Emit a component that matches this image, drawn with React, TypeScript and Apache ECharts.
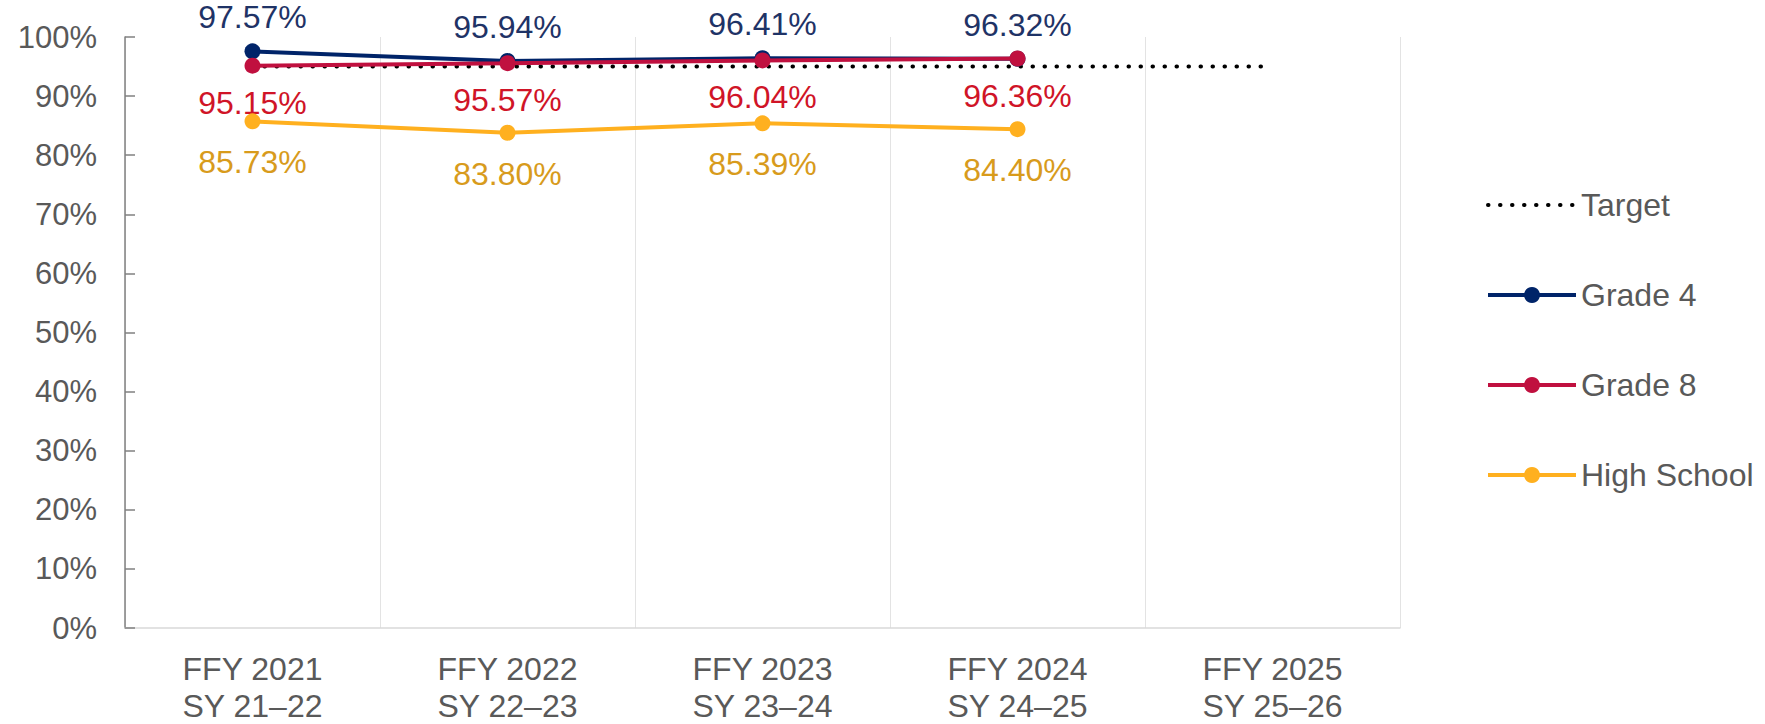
import React, { useEffect, useRef } from "react";
import * as echarts from "echarts";

const categories = [
  "FFY 2021\nSY 21–22",
  "FFY 2022\nSY 22–23",
  "FFY 2023\nSY 23–24",
  "FFY 2024\nSY 24–25",
  "FFY 2025\nSY 25–26",
];
const target = [95, 95, 95, 95, 95];
const grade4 = [97.57, 95.94, 96.41, 96.32, null];
const grade8 = [95.15, 95.57, 96.04, 96.36, null];
const highSchool = [85.73, 83.8, 85.39, 84.4, null];

const FONT = "'Liberation Sans', Arial, sans-serif";
const GRAY = "#595959";

export default function App() {
  const ref = useRef<HTMLDivElement>(null);
  useEffect(() => {
    document.body.style.margin = "0";
    if (!ref.current) return;
    const chart = echarts.init(ref.current, undefined, { renderer: "svg" });
    const lbl = (color: string, position: string, distance: number) => ({
      show: true,
      position,
      distance,
      color,
      fontSize: 32,
      fontFamily: FONT,
      formatter: (p: any) => `${Number(p.value).toFixed(2)}%`,
    });
    chart.setOption({
      animation: false,
      textStyle: { fontFamily: FONT },
      grid: { left: 125, right: 365, top: 37, bottom: 96, containLabel: false },
      legend: {
        orient: "vertical",
        left: 1481,
        top: 184,
        itemWidth: 88,
        itemHeight: 20,
        itemGap: 58,
        lineStyle: { width: 4 },
        textStyle: { color: GRAY, fontSize: 32, fontFamily: FONT },
        data: [
          { name: "Target", itemStyle: { opacity: 0 }, lineStyle: { width: 4 } },
          "Grade 4",
          "Grade 8",
          "High School",
        ],
      },
      xAxis: {
        type: "category",
        data: categories,
        boundaryGap: true,
        axisLine: { lineStyle: { color: "#d9d9d9", width: 1.5 } },
        axisTick: { show: false },
        splitLine: { show: true, interval: 0, lineStyle: { color: "#e3e3e3", width: 1 } },
        axisLabel: {
          color: GRAY,
          fontSize: 32,
          lineHeight: 37,
          margin: 22,
          interval: 0,
          fontFamily: FONT,
        },
      },
      yAxis: {
        type: "value",
        min: 0,
        max: 100,
        interval: 10,
        axisLine: { show: true, lineStyle: { color: "#808080", width: 1.5 } },
        axisTick: { show: true, inside: true, length: 10, lineStyle: { color: "#808080", width: 1.5 } },
        splitLine: { show: false },
        axisLabel: {
          formatter: "{value}%",
          color: GRAY,
          fontSize: 31,
          margin: 28,
          fontFamily: FONT,
        },
      },
      series: [
        {
          name: "Target",
          type: "line",
          data: target,
          symbol: "none",
          color: "#000000",
          lineStyle: { color: "#000000", width: 4, type: [0.5, 11.5], cap: "round" },
          z: 1,
        },
        {
          name: "Grade 4",
          type: "line",
          data: grade4,
          symbol: "circle",
          symbolSize: 16,
          color: "#002469",
          lineStyle: { color: "#002469", width: 4 },
          itemStyle: { color: "#002469" },
          label: lbl("#1f3366", "top", 10),
          z: 2,
        },
        {
          name: "Grade 8",
          type: "line",
          data: grade8,
          symbol: "circle",
          symbolSize: 16,
          color: "#c0103f",
          lineStyle: { color: "#c0103f", width: 4 },
          itemStyle: { color: "#c0103f" },
          label: lbl("#d01427", "bottom", 13),
          z: 3,
        },
        {
          name: "High School",
          type: "line",
          data: highSchool,
          symbol: "circle",
          symbolSize: 16,
          color: "#ffb01f",
          lineStyle: { color: "#ffb01f", width: 4 },
          itemStyle: { color: "#ffb01f" },
          label: lbl("#d89b1c", "bottom", 17),
          z: 4,
        },
      ],
    });
    return () => chart.dispose();
  }, []);
  return <div ref={ref} style={{ width: 1765, height: 724 }} />;
}
